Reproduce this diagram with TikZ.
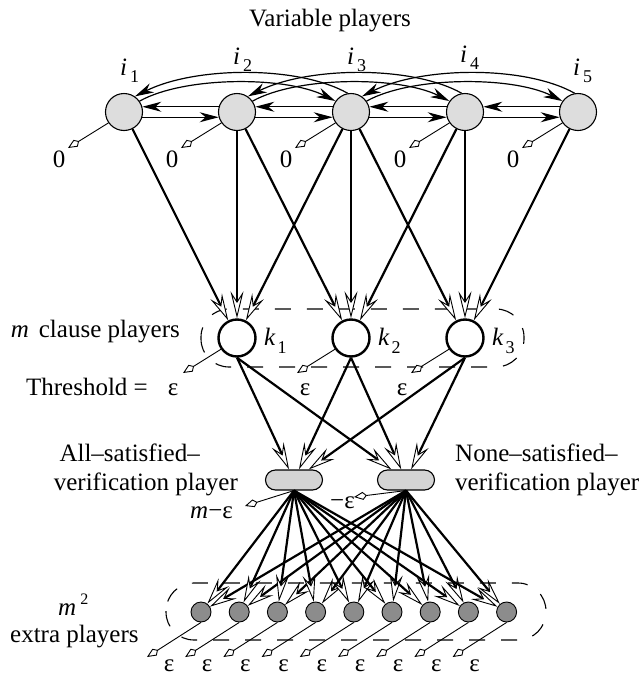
\documentclass[tikz,border=0pt]{standalone}
\usepackage{fontspec}
\setmainfont{Liberation Serif}
\usetikzlibrary{arrows.meta}
\definecolor{vgray}{RGB}{221,221,221}
\definecolor{sgray}{RGB}{212,212,212}
\definecolor{egray}{RGB}{140,140,140}
\begin{document}
\begin{tikzpicture}[x=1pt,y=-1pt,
  txt/.style={font=\fontsize{25}{30}\selectfont, inner sep=0pt},
  var/.style={circle, draw, line width=1.1pt, fill=vgray, minimum size=37pt, inner sep=0pt},
  clause/.style={circle, draw, line width=2.4pt, fill=white, minimum size=37pt, inner sep=0pt},
  verif/.style={rectangle, rounded corners=10pt, draw, line width=1.1pt, fill=sgray, minimum width=57pt, minimum height=20pt, inner sep=0pt},
  extra/.style={circle, draw, line width=0.9pt, fill=egray, minimum size=20pt, inner sep=0pt},
  bigarr/.style={line width=2.2pt, -{Stealth[length=27pt,width=13pt,inset=10pt,fill=white,line width=0.9pt]}},
  sarr/.style={line width=1.2pt, -{Stealth[length=19pt,width=10pt,inset=6pt]}},
  tarr/.style={line width=0.9pt, -{Kite[length=13pt,width=8pt,inset=4pt,fill=white]}},
  grp/.style={draw, line width=1.1pt, dash pattern=on 16pt off 16pt, rounded corners=28pt}
]
\useasboundingbox (0,0) rectangle (642,678);

% groups
\draw[grp] (201,309) rectangle (524,367);
\draw[grp] (166,583) rectangle (546,640);

% nodes
\foreach \n/\x in {1/124,2/237,3/351,4/465,5/578}
  \node[var] (i\n) at (\x,112) {};
\foreach \n/\x in {1/237,2/351,3/465}
  \node[clause] (k\n) at (\x,338) {};
\node[verif] (V1) at (294,480) {};
\node[verif] (V2) at (406,480) {};
\foreach \j in {1,...,9}
  \node[extra] (e\j) at ({201+38.2*(\j-1)},612) {};

% variable - variable straight arrows
\foreach \a/\b in {1/2,2/3,3/4,4/5}{
  \draw[sarr] (i\b.164) -- (i\a.16);
  \draw[sarr] (i\a.-16) -- (i\b.196);
}
% arcs
\foreach \a/\b in {1/3,2/4,3/5}{
  \draw[sarr] (i\b.100) .. controls +(-50,-28) and +(60,-30) .. (i\a.55);
  \draw[sarr] (i\a.35) .. controls +(45,-25) and +(-50,-25) .. (i\b.145);
}

% variable -> clause
\foreach \a/\b in {1/1,2/1,3/1,2/2,3/2,4/2,3/3,4/3,5/3}
  \draw[bigarr] (i\a) -- (k\b);

% clause -> verification
\foreach \k in {1,2,3}{
  \draw[bigarr] (k\k.south) -- (V1);
  \draw[bigarr] (k\k.south) -- (V2);
}

% verification -> extra
\foreach \j in {1,...,9}{
  \draw[bigarr] (V1.south) -- (e\j);
  \draw[bigarr] (V2.south) -- (e\j);
}

% thresholds of variable players
\foreach \n/\x in {1/124,2/237,3/351,4/465,5/578}{
  \coordinate (zi\n) at (\x-56,148);
  \draw[tarr] (i\n.215) -- (zi\n);
  \node[txt, anchor=base] (zl\n) at (\x-65,167) {0};
}
% thresholds of clause players
\foreach \n/\x/\ex in {1/237/173,2/351/305,3/465/402}{
  \coordinate (zk\n) at (\x-54,373);
  \draw[tarr] (k\n.215) -- (zk\n);
  \node[txt, anchor=base] (ek\n) at (\ex,395) {ε};
}
% thresholds of verification players
\coordinate (zv1) at (245,506);
\coordinate (zv2) at (354,497);
\draw[tarr] (V1.south) -- (zv1);
\draw[tarr] (V2.south) -- (zv2);
\node[txt, anchor=base west] (mv1) at (190,518) {\textit{m}−ε};
\node[txt, anchor=base west] (mv2) at (330,508) {−ε};
% thresholds of extra players
\foreach \j in {1,...,9}{
  \coordinate (ze\j) at ({201+38.2*(\j-1)-54},657);
  \draw[tarr] (e\j.south) -- (ze\j);
  \node[txt, anchor=base] (ee\j) at ({201+38.2*(\j-1)-32},671) {ε};
}

% labels of variable players
\foreach \n/\x/\y in {1/120/75,2/233/64,3/347/64,4/460/62,5/573/75}
  \node[txt, anchor=base west] (li\n) at (\x,\y) {\textit{i}\hspace{3pt}\raisebox{-7pt}{\fontsize{18}{20}\selectfont \n}};
% labels of clause players
\foreach \n/\x in {1/237,2/351,3/465}
  \node[txt, anchor=base west] (lk\n) at (\x+27,345) {\textit{k}\hspace{2pt}\raisebox{-8pt}{\fontsize{18}{20}\selectfont \n}};

% texts
\node[txt, anchor=base] (title) at (330,26) {Variable players};
\node[txt, anchor=base east] (clab) at (180,337) {\textit{m}\hspace{10pt}clause players};
\node[txt, anchor=base east] (thr) at (148,395) {Threshold =};
\node[txt, anchor=base east] (all1) at (200,461) {All–satisfied–};
\node[txt, anchor=base east] (all2) at (238,490) {verification player};
\node[txt, anchor=base west] (none1) at (455,461) {None–satisfied–};
\node[txt, anchor=base west] (none2) at (455,490) {verification player};
\node[txt, anchor=base west] (msq) at (58,615) {\textit{m}\hspace{4pt}\raisebox{11pt}{\fontsize{16}{18}\selectfont 2}};
\node[txt, anchor=base west] (xtra) at (10,642) {extra players};
\end{tikzpicture}
\end{document}
